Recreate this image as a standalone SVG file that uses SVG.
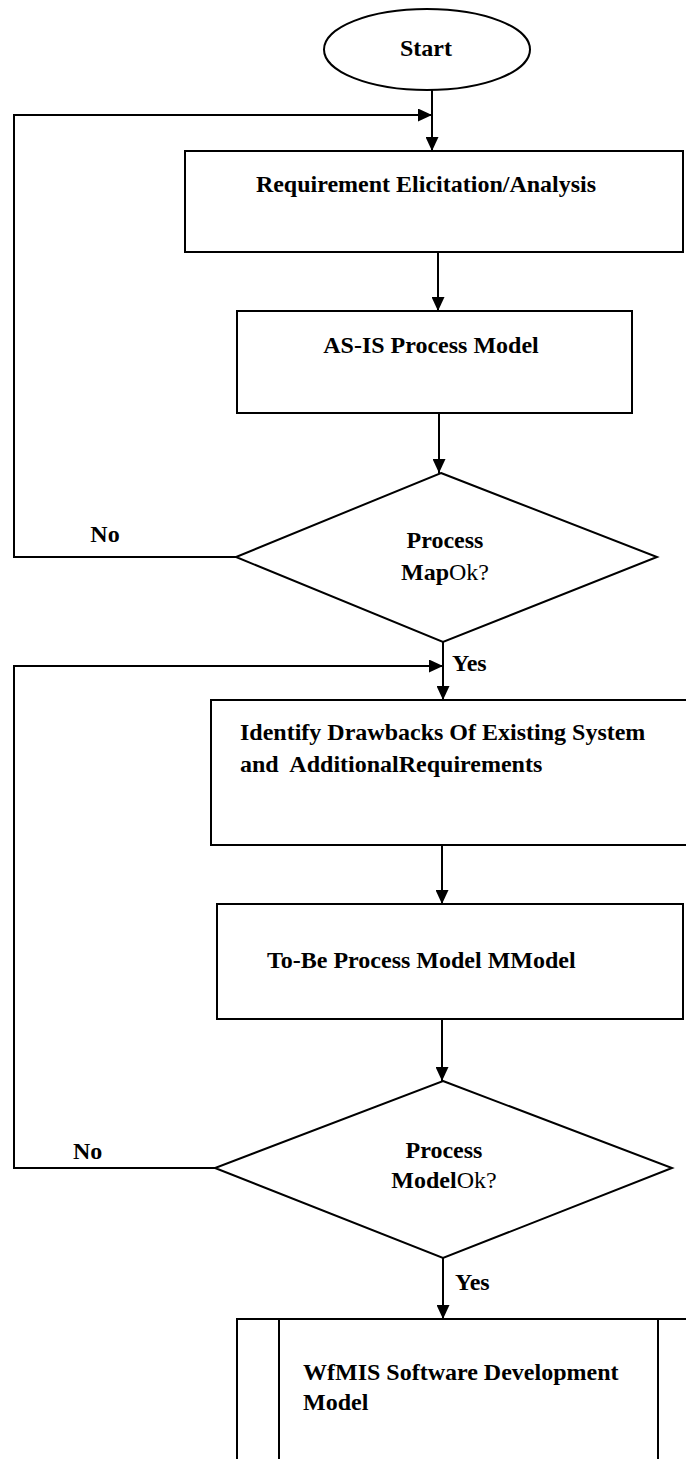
<svg xmlns="http://www.w3.org/2000/svg" width="686" height="1459" viewBox="0 0 686 1459">
<style>
.s{fill:#fff;stroke:#000;stroke-width:2}
.c{fill:none;stroke:#000;stroke-width:2}
.t{font-family:"Liberation Serif","Times New Roman",serif;font-size:24px;font-weight:bold;fill:#000}
.r{font-weight:normal}
</style>
<defs>
<marker id="ah" markerUnits="userSpaceOnUse" markerWidth="14" markerHeight="13" refX="14" refY="6.5" orient="auto">
<path d="M0,0 L14,6.5 L0,13 z" fill="#000"/>
</marker>
</defs>
<rect width="686" height="1459" fill="#fff"/>
<g id="start">
<ellipse class="s" cx="427" cy="49.5" rx="103" ry="40.5"/>
<text class="t" x="426" y="56" text-anchor="middle">Start</text>
</g>
<g id="req">
<rect class="s" x="185" y="151" width="498" height="101"/>
<text class="t" x="426" y="192" text-anchor="middle">Requirement Elicitation/Analysis</text>
</g>
<g id="asis">
<rect class="s" x="237" y="311" width="395" height="102"/>
<text class="t" x="431" y="353" text-anchor="middle">AS-IS Process Model</text>
</g>
<g id="dec1">
<polygon class="s" points="441,473 657,557 443,642 236,557"/>
<text class="t" x="445" y="548" text-anchor="middle">Process</text>
<text class="t" x="445" y="580" text-anchor="middle">Map<tspan class="r">Ok?</tspan></text>
</g>
<g id="identify">
<rect class="s" x="211" y="700" width="490" height="145"/>
<text class="t" x="240" y="740">Identify Drawbacks Of Existing System</text>
<text class="t" x="240" y="772" xml:space="preserve">and  AdditionalRequirements</text>
</g>
<g id="tobe">
<rect class="s" x="217" y="904" width="466" height="115"/>
<text class="t" x="267" y="968">To-Be Process Model MModel</text>
</g>
<g id="dec2">
<polygon class="s" points="443,1081 672,1168 443,1258 215,1168"/>
<text class="t" x="444" y="1158" text-anchor="middle">Process</text>
<text class="t" x="444" y="1188" text-anchor="middle">Model<tspan class="r">Ok?</tspan></text>
</g>
<g id="wfmis">
<rect class="s" x="237" y="1319" width="480" height="160"/>
<line class="c" x1="279" y1="1319" x2="279" y2="1479"/>
<line class="c" x1="658" y1="1319" x2="658" y2="1479"/>
<text class="t" x="303" y="1380">WfMIS Software Development</text>
<text class="t" x="303" y="1410">Model</text>
</g>
<g id="connectors">
<path class="c" d="M432,90 V151" marker-end="url(#ah)"/>
<path class="c" d="M236,557 H14 V115 H432" marker-end="url(#ah)"/>
<path class="c" d="M438,252 V311" marker-end="url(#ah)"/>
<path class="c" d="M439,413 V473" marker-end="url(#ah)"/>
<path class="c" d="M443,642 V700" marker-end="url(#ah)"/>
<path class="c" d="M215,1168 H14 V666 H443" marker-end="url(#ah)"/>
<path class="c" d="M442,845 V904" marker-end="url(#ah)"/>
<path class="c" d="M442,1019 V1081" marker-end="url(#ah)"/>
<path class="c" d="M443,1258 V1319" marker-end="url(#ah)"/>
<text class="t" x="105" y="542" text-anchor="middle">No</text>
<text class="t" x="452" y="671">Yes</text>
<text class="t" x="73" y="1159">No</text>
<text class="t" x="455" y="1290">Yes</text>
</g>
</svg>
